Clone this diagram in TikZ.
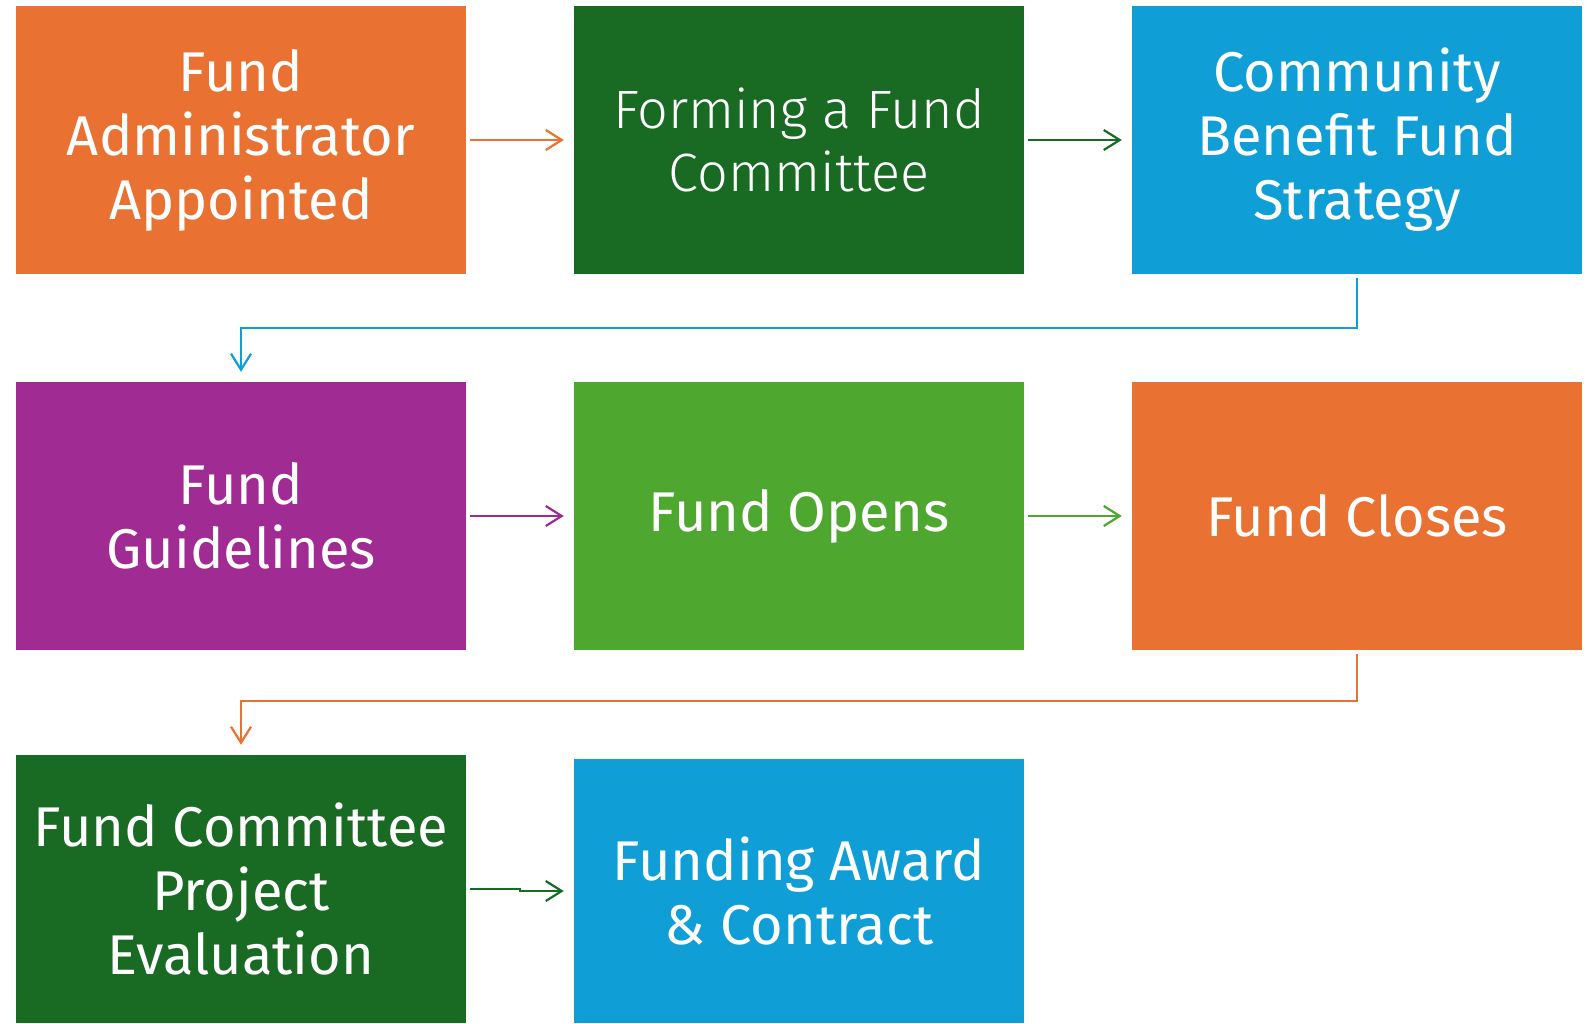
\documentclass[tikz,border=0pt]{standalone}
\usepackage{fontspec}
\setmainfont{Fira Sans}
\newfontfamily\lightfont{Fira Sans Light}
\usetikzlibrary{arrows.meta}
\definecolor{fundorange}{HTML}{E97132}
\definecolor{fundgreen}{HTML}{196B24}
\definecolor{fundblue}{HTML}{0F9ED5}
\definecolor{fundpurple}{HTML}{A02B93}
\definecolor{fundlime}{HTML}{4EA72E}
\begin{document}
\begin{tikzpicture}
[x=1pt,y=-1pt,
 box/.style={minimum width=450pt,minimum height=268pt,inner sep=0pt,
   text=white,align=center,font=\fontsize{56}{64}\selectfont},
 link/.style={line width=2.2pt,-{Straight Barb[length=16pt,width=20pt]},
   shorten <=4pt,shorten >=10pt}]
\useasboundingbox (0,0) rectangle (1591,1024);

\node[box,fill=fundorange] (admin) at (241,140) {Fund\\Administrator\\Appointed};
\node[box,fill=fundgreen,font=\fontsize{54}{63}\selectfont] (committee) at (799,140) {\lightfont Forming a Fund\\\lightfont Committee};
\node[box,fill=fundblue] (strategy) at (1357,140) {Community\\Benefit Fund\\Strategy};

\node[box,fill=fundpurple] (guide) at (241,516) {Fund\\Guidelines};
\node[box,fill=fundlime] (opens) at (799,516) {Fund Opens};
\node[box,fill=fundorange] (closes) at (1357,516) {Fund Closes};

\node[box,fill=fundgreen] (eval) at (241,889) {Fund Committee\\Project\\Evaluation};
\node[box,fill=fundblue,minimum height=264pt] (award) at (799,891) {Funding Award\\\& Contract};

\draw[link,fundorange] (admin) -- (committee);
\draw[link,fundgreen] (committee) -- (strategy);
\draw[link,fundblue] (strategy.south) -- ++(0,54) -| (guide.north);
\draw[link,fundpurple] (guide) -- (opens);
\draw[link,fundlime] (opens) -- (closes);
\draw[link,fundorange] (closes.south) -- ++(0,51) -| (eval.north);
\draw[link,fundgreen] (eval.east) -- ++(54,0) |- (award.west);
\end{tikzpicture}
\end{document}
